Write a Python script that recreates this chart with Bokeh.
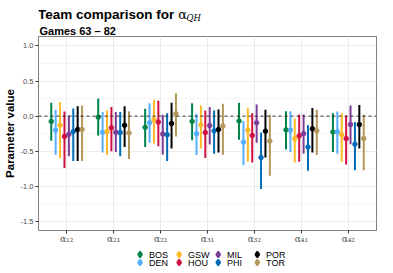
from bokeh.plotting import figure
from bokeh.models import Range1d, FixedTicker, SingleIntervalTicker, Span, ColumnDataSource, PrintfTickFormatter
from bokeh.layouts import column
from bokeh.embed import file_html
from bokeh.resources import INLINE
from bokeh.core.properties import value

# ---------------- data ----------------
groups = ["α₁₂", "α₂₁", "α₂₂", "α₃₁", "α₃₂", "α₄₁", "α₄₂"]
teams = ["BOS", "DEN", "GSW", "HOU", "MIL", "PHI", "POR", "TOR"]
team_colors = ["#008348", "#56AEFF", "#FDB927", "#CE1141",
               "#7D3C98", "#006BB6", "#000000", "#B4975A"]

mid_BOS = [-0.075, -0.015, -0.16, -0.075, -0.07, -0.195, -0.225]
hi_BOS = [0.19, 0.25, 0.105, 0.185, 0.19, 0.07, 0.04]
lo_BOS = [-0.35, -0.28, -0.44, -0.345, -0.335, -0.475, -0.51]

mid_DEN = [-0.2, -0.23, -0.095, -0.25, -0.37, -0.2, -0.225]
hi_DEN = [0.09, 0.06, 0.185, 0.035, -0.07, 0.07, 0.065]
lo_DEN = [-0.55, -0.52, -0.38, -0.555, -0.7, -0.51, -0.535]

mid_GSW = [-0.13, -0.22, -0.05, -0.125, -0.2, -0.32, -0.265]
hi_GSW = [0.2, 0.08, 0.235, 0.15, 0.12, -0.035, 0.04]
lo_GSW = [-0.6, -0.55, -0.39, -0.46, -0.65, -0.66, -0.65]

mid_HOU = [-0.29, -0.165, -0.085, -0.235, -0.275, -0.28, -0.32]
hi_HOU = [0.065, 0.13, 0.22, 0.08, 0.04, 0.025, 0.01]
lo_HOU = [-0.74, -0.5, -0.43, -0.595, -0.66, -0.65, -0.69]

mid_MIL = [-0.26, -0.23, -0.255, -0.135, -0.095, -0.25, -0.12]
hi_MIL = [0.01, 0.06, 0.02, 0.13, 0.165, 0.025, 0.15]
lo_MIL = [-0.57, -0.51, -0.55, -0.405, -0.38, -0.535, -0.4]

mid_PHI = [-0.22, -0.235, -0.265, -0.21, -0.59, -0.44, -0.4]
hi_PHI = [0.11, 0.06, 0.04, 0.08, -0.235, -0.13, -0.085]
lo_PHI = [-0.64, -0.57, -0.64, -0.535, -1.04, -0.78, -0.77]

mid_POR = [-0.19, -0.13, -0.105, -0.19, -0.215, -0.18, -0.12]
hi_POR = [0.14, 0.14, 0.19, 0.095, 0.09, 0.115, 0.16]
lo_POR = [-0.64, -0.44, -0.46, -0.52, -0.59, -0.52, -0.46]

mid_TOR = [-0.19, -0.24, 0.035, -0.14, -0.355, -0.21, -0.32]
hi_TOR = [0.15, 0.07, 0.325, 0.175, 0.02, 0.09, 0.02]
lo_TOR = [-0.64, -0.61, -0.29, -0.55, -0.85, -0.555, -0.77]

mids = [mid_BOS, mid_DEN, mid_GSW, mid_HOU, mid_MIL, mid_PHI, mid_POR, mid_TOR]
his = [hi_BOS, hi_DEN, hi_GSW, hi_HOU, hi_MIL, hi_PHI, hi_POR, hi_TOR]
los = [lo_BOS, lo_DEN, lo_GSW, lo_HOU, lo_MIL, lo_PHI, lo_POR, lo_TOR]

title_text = "Team comparison for"
title_symbol = "α"
title_sub = "QH"
subtitle_text = "Games 63 – 82"
y_label = "Parameter value"

W = 377
FONT = "Liberation Sans"
LEFT, RIGHT = 30, 1


def strip(height):
    # pixel-space strip whose frame is aligned with the main panel frame
    f = figure(width=W, height=height, output_backend="svg", toolbar_location=None,
               x_range=Range1d(LEFT, W - RIGHT), y_range=Range1d(height, 0),
               min_border_left=LEFT, min_border_right=RIGHT,
               min_border_top=0, min_border_bottom=0,
               x_axis_location=None, y_axis_location=None,
               background_fill_color="white", border_fill_color="white")
    f.outline_line_color = None
    f.grid.visible = False
    return f


# ---------------- header (title + subtitle) ----------------
H_HEAD = 35
TITLE_END = 169
head = strip(H_HEAD)
head.text(x=[TITLE_END], y=[14], text=[title_text], text_font=value(FONT),
          text_font_style="bold", text_font_size="13.5px", text_align="right",
          text_baseline="alphabetic", text_color="black")
head.text(x=[TITLE_END + 4], y=[14], text=[title_symbol], text_font=value("DejaVu Serif"),
          text_font_size="13px", text_baseline="alphabetic", text_color="black")
head.text(x=[TITLE_END + 12.5], y=[17], text=[title_sub], text_font=value("DejaVu Serif"),
          text_font_style="italic", text_font_size="8.5px",
          text_baseline="alphabetic", text_color="black")
head.text(x=[LEFT + 1], y=[30], text=[subtitle_text], text_font=value(FONT),
          text_font_style="bold", text_font_size="11px",
          text_baseline="alphabetic", text_color="black")

# ---------------- main panel ----------------
TOP, BOTTOM = 1, 15
FH = 195
p = figure(width=W, height=TOP + FH + BOTTOM, output_backend="svg", toolbar_location=None,
           x_range=Range1d(0.4, 7.6), y_range=Range1d(-1.63, 1.135),
           min_border_left=LEFT, min_border_right=RIGHT,
           min_border_top=TOP, min_border_bottom=BOTTOM,
           background_fill_color="white", border_fill_color="white")
p.outline_line_color = "#7f7f7f"
p.outline_line_width = 1

xt = FixedTicker(ticks=list(range(1, len(groups) + 1)))
yt = SingleIntervalTicker(interval=0.5, num_minor_ticks=2)
p.xaxis.ticker = xt
p.yaxis.ticker = yt
p.xgrid.ticker = xt
p.ygrid.ticker = yt
p.xaxis.major_label_overrides = {i + 1: g for i, g in enumerate(groups)}
p.yaxis.formatter = PrintfTickFormatter(format="%.1f")

for ax in (p.xaxis, p.yaxis):
    ax.axis_line_color = None
    ax.major_tick_line_color = "#333333"
    ax.major_tick_out = 3
    ax.major_tick_in = 0
    ax.minor_tick_line_color = None
    ax.major_label_text_color = "#4d4d4d"
    ax.major_label_text_font = FONT
    ax.major_label_standoff = 1
p.xaxis.major_label_standoff = 0
p.xaxis.major_label_text_font_size = "9px"
p.xaxis.major_label_text_font = "DejaVu Serif"
p.yaxis.major_label_text_font_size = "7.5px"
p.yaxis.axis_label = y_label
p.yaxis.axis_label_text_font = FONT
p.yaxis.axis_label_text_font_style = "bold"
p.yaxis.axis_label_text_font_size = "11.5px"
p.yaxis.axis_label_text_color = "black"
p.yaxis.axis_label_standoff = 2

p.xgrid.grid_line_color = "#ebebeb"
p.ygrid.grid_line_color = "#ebebeb"
p.ygrid.minor_grid_line_color = "#f0f0f0"
p.xgrid.grid_line_width = 1
p.ygrid.grid_line_width = 1
p.ygrid.minor_grid_line_width = 0.7

p.add_layout(Span(location=0, dimension="width", line_color="#222222",
                  line_dash="3 3", line_width=0.9))

n = len(teams)
dodge_width = 0.75
for i, team in enumerate(teams):
    off = (i - (n - 1) / 2) * dodge_width / n
    xs = [g + 1 + off for g in range(len(groups))]
    src = ColumnDataSource(data=dict(x=xs, mid=mids[i], lo=los[i], hi=his[i]))
    p.segment(x0="x", y0="lo", x1="x", y1="hi", source=src,
              line_color=team_colors[i], line_width=2)
    p.scatter(x="x", y="mid", source=src, size=4.5, marker="circle",
              fill_color=team_colors[i], line_color=team_colors[i])

# ---------------- legend strip ----------------
H_LEG = 22
leg = strip(H_LEG)
cols = [i // 2 for i in range(n)]
rows = [i % 2 for i in range(n)]
kx = [134 + 40 * c for c in cols]
ky = [8 + 8 * r for r in rows]
lsrc = ColumnDataSource(data=dict(x=kx, y=ky, y0=[v - 3.5 for v in ky], y1=[v + 3.5 for v in ky],
                                  tx=[v + 9 for v in kx], name=teams, color=team_colors))
leg.segment(x0="x", y0="y0", x1="x", y1="y1", source=lsrc, line_color="color", line_width=2)
leg.scatter(x="x", y="y", source=lsrc, size=4.5, fill_color="color", line_color="color")
leg.text(x="tx", y="y", text="name", source=lsrc, text_font=value(FONT),
         text_font_size="9px", text_baseline="middle", text_color="black")

layout = column(head, p, leg, spacing=0)
open("out.html", "w").write(file_html(layout, INLINE))
